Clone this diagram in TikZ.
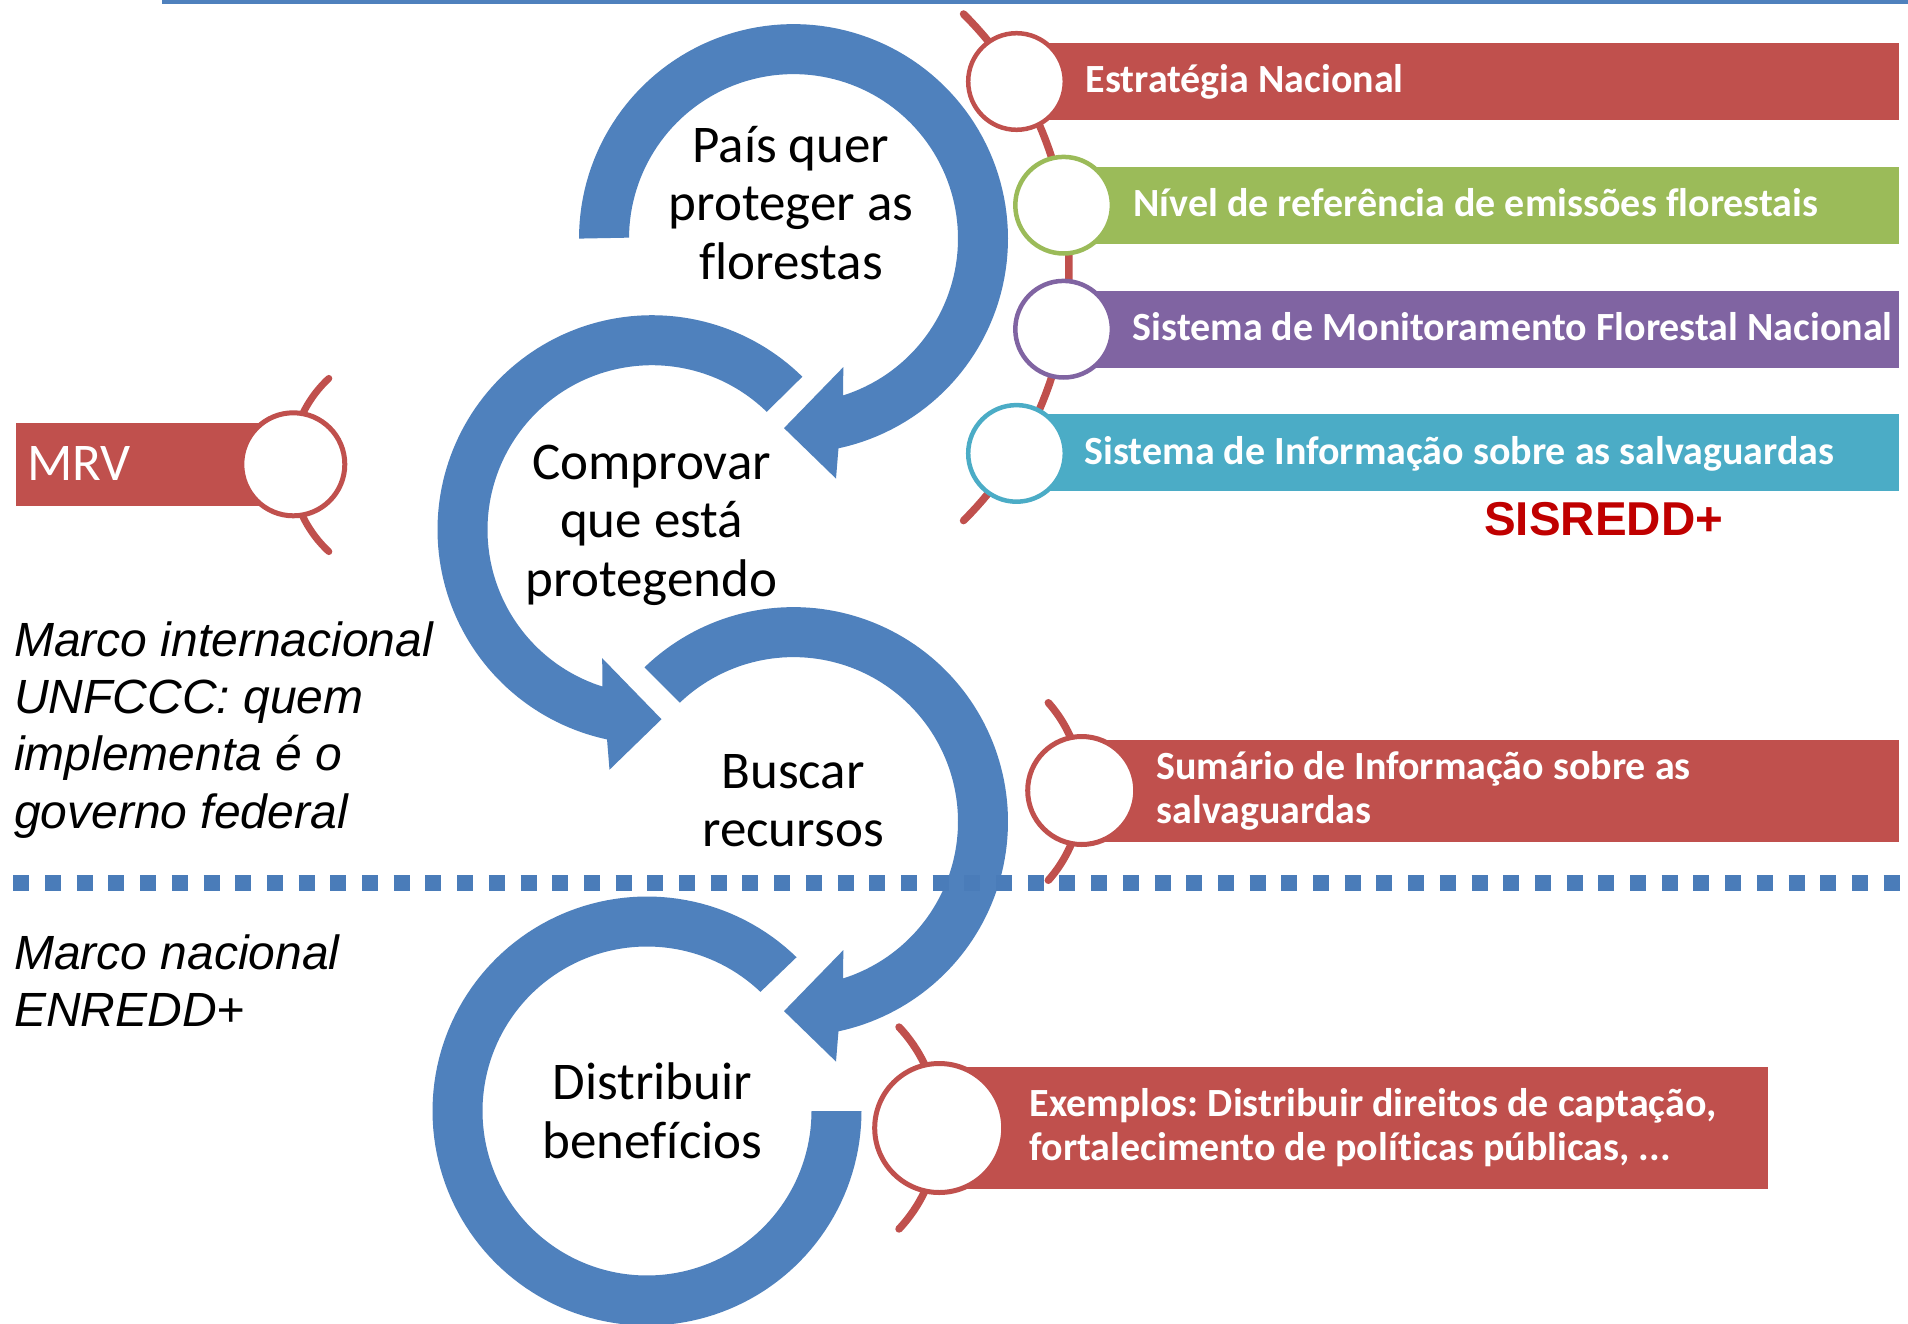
\documentclass[tikz,border=0pt]{standalone}
\usepackage{fontspec}
\newfontfamily\calfont[Ligatures=NoCommon]{Carlito}
\newfontfamily\arifont{Liberation Sans}
\frenchspacing
\definecolor{arrowblue}{HTML}{4F81BD}
\definecolor{dotblue}{HTML}{4A7CB9}
\definecolor{itemred}{HTML}{C0504D}
\definecolor{itemgreen}{HTML}{9BBB59}
\definecolor{itempurple}{HTML}{8064A2}
\definecolor{itemteal}{HTML}{4BACC6}
\definecolor{sisred}{HTML}{C00000}
% clockwise / mirrored circular arrow band: #1 cx, #2 cy, #3 start angle, #4 sign
\newcommand\arrowband[4]{%
  \fill[arrowblue]
    plot[domain=#3:437.9, samples=120] ({#1+(#4)*214.5*cos(\x)},{#2+214.5*sin(\x)})
    -- ({#1+(#4)*42.5},{#2+240})
    -- ({#1-(#4)*9.5},{#2+189.5})
    -- ({#1+(#4)*49.8},{#2+128.5})
    -- plot[domain=0:1, samples=120] ({#1+(#4)*164.5*cos(432.45-(432.45-#3)*\x)},{#2+164.5*sin(432.45-(432.45-#3)*\x)})
    -- cycle;}
\begin{document}
\begin{tikzpicture}[x=1pt,y=-1pt,
  stepfont/.style={font=\calfont\fontsize{53}{58.6}\selectfont, inner sep=0pt, align=center, anchor=base},
  itemfont/.style={font=\calfont\bfseries\fontsize{40}{43.8}\selectfont, text=white, inner sep=0pt, anchor=base west, align=left},
  sidefont/.style={font=\arifont\itshape\fontsize{48}{57.4}\selectfont, inner sep=0pt, anchor=base west, align=left},
  listcircle/.style={circle, fill=white, inner sep=0pt},
  listline/.style={itemred, line width=7.5pt, line cap=round}]
\useasboundingbox (0,0) rectangle (1908,1324);
\fill[white] (0,0) rectangle (1908,1324);

% top rule
\fill[arrowblue] (162,0) rectangle (1908,4);

% circular arrows
\arrowband{793.5}{238.6}{180}{1}
\arrowband{652}{529.7}{225.5}{-1}
\arrowband{793.5}{821.6}{226}{1}
\fill[arrowblue]
  plot[domain=225.8:540, samples=150] ({647-214.5*cos(\x)},{1111+214.5*sin(\x)})
  -- plot[domain=0:1, samples=150] ({647-164.5*cos(540-(540-225.8)*\x)},{1111+164.5*sin(540-(540-225.8)*\x)})
  -- cycle;

% dotted separator
\draw[dotblue, line width=16pt, dash pattern=on 16pt off 15.7pt] (13.3,882.5) -- (1902,882.5);

% step labels (base anchor = last line)
\node[stepfont] (t1) at (791,279.3) {País quer\\proteger as\\florestas};
\node[stepfont] (t2) at (651.6,596.4) {Comprovar\\que está\\protegendo};
\node[stepfont] (t3) at (793,846.7) {Buscar\\recursos};
\node[stepfont] (t4) at (652.5,1158.2) {Distribuir\\benefícios};

% MRV item
\draw[listline, line width=7pt] plot[domain=132.8:227.2, samples=40] ({409+118*cos(\x)},{465+118*sin(\x)});
\fill[itemred] (16,423.3) rectangle (293.3,505.7);
\node[listcircle, draw=itemred, line width=5pt, minimum size=103pt] (cm) at (293.3,464.3) {};
\node[font=\calfont\fontsize{53}{60}\selectfont, text=white, inner sep=0pt, anchor=base west] (mrv) at (27,480) {MRV};

% SISREDD+ list
\draw[listline] plot[domain=-45.2:45.2, samples=60] ({712+357*cos(\x)},{267.3+357*sin(\x)});
\fill[itemred] (1016.5,43) rectangle (1898.7,120);
\fill[itemgreen] (1063.6,166.6) rectangle (1898.7,243.8);
\fill[itempurple] (1063.6,291.1) rectangle (1898.7,368.3);
\fill[itemteal] (1016.5,413.9) rectangle (1898.7,491);
\node[listcircle, draw=itemred, line width=4.5pt, minimum size=96.6pt] (c1) at (1016.5,81.5) {};
\node[listcircle, draw=itemgreen, line width=4.5pt, minimum size=96.6pt] (c2) at (1063.6,205.2) {};
\node[listcircle, draw=itempurple, line width=4.5pt, minimum size=96.6pt] (c3) at (1063.6,329.2) {};
\node[listcircle, draw=itemteal, line width=4.5pt, minimum size=96.6pt] (c4) at (1016.5,453.4) {};
\node[itemfont] (l1) at (1085.6,93) {Estratégia Nacional};
\node[itemfont] (l2) at (1133.4,216.7) {Nível de referência de emissões florestais};
\node[itemfont] (l3) at (1132.7,340.5) {Sistema de Monitoramento Florestal Nacional};
\node[itemfont] (l4) at (1084.5,464.5) {Sistema de Informação sobre as salvaguardas};
\node[font=\arifont\bfseries\fontsize{47.5}{50}\selectfont, text=sisred, inner sep=0pt, anchor=base west] (sis) at (1484,535) {SISREDD+};

% Sumario item
\draw[listline] plot[domain=-41.5:41.5, samples=40] ({948+134*cos(\x)},{791.5+134*sin(\x)});
\fill[itemred] (1081.7,740) rectangle (1898.7,842.3);
\node[listcircle, draw=itemred, line width=5pt, minimum size=108pt] (cs) at (1081.7,790.5) {};
\node[itemfont] (ls) at (1156.3,823.5) {Sumário de Informação sobre as\\salvaguardas};

% Exemplos item
\draw[listline] plot[domain=-43.2:43.2, samples=40] ({791.5+147.5*cos(\x)},{1128+147.5*sin(\x)});
\fill[itemred] (939.2,1066.7) rectangle (1768.1,1189);
\node[listcircle, draw=itemred, line width=5pt, minimum size=129pt] (ce) at (939.2,1128) {};
\node[itemfont] (le) at (1029.3,1160.7) {Exemplos: Distribuir direitos de captação,\\fortalecimento de políticas públicas, ...};

% side labels (base anchor = last line)
\node[sidefont] (m1) at (14,828.3) {Marco internacional\\UNFCCC: quem\\implementa é o\\governo federal};
\node[sidefont] (m2) at (14,1026.7) {Marco nacional\\ENREDD+};
\end{tikzpicture}
\end{document}
